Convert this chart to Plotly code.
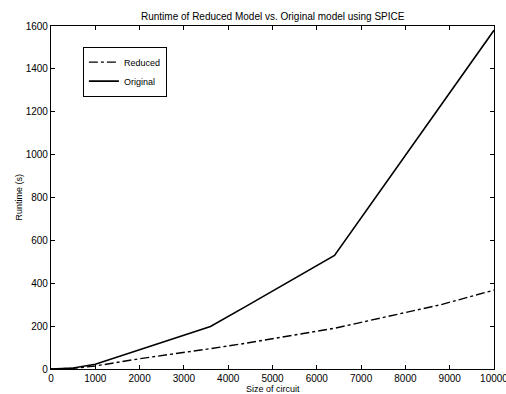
import plotly.graph_objects as go

orig_x = [0, 500, 1000, 3600, 4400, 6400, 10000]
orig_y = [0, 5, 22, 198, 292, 530, 1580]
red_x = [0, 500, 1000, 2000, 3600, 4400, 6400, 8800, 10000]
red_y = [0, 3, 14, 48, 95, 120, 190, 300, 368]

x_ticks = [0, 1000, 2000, 3000, 4000, 5000, 6000, 7000, 8000, 9000, 10000]
y_ticks = [0, 200, 400, 600, 800, 1000, 1200, 1400, 1600]

FONT = "Liberation Sans, Arial, sans-serif"

fig = go.Figure()
fig.add_trace(go.Scatter(x=red_x, y=red_y, mode="lines", name="Reduced",
                         line=dict(color="black", width=1.4, dash="dashdot")))
fig.add_trace(go.Scatter(x=orig_x, y=orig_y, mode="lines", name="Original",
                         line=dict(color="black", width=1.6)))

axis_common = dict(showgrid=False, zeroline=False, showline=True, linecolor="black",
                   linewidth=1.2, mirror="ticks", ticks="inside", ticklen=4,
                   tickcolor="black", tickwidth=1.2, ticklabeloverflow="allow",
                   tickfont=dict(family=FONT, size=10, color="black"))

fig.update_xaxes(range=[0, 10000], tickvals=x_ticks, ticktext=[str(v) for v in x_ticks],
                 automargin=False, **axis_common)
fig.update_yaxes(range=[0, 1600], tickvals=y_ticks, ticktext=[str(v) for v in y_ticks],
                 automargin=False, **axis_common)

fig.update_layout(
    width=506, height=394,
    margin=dict(l=51, r=12, t=26, b=25),
    paper_bgcolor="white", plot_bgcolor="white",
    showlegend=True,
    legend=dict(x=0.072, y=0.94, xanchor="left", yanchor="top",
                bgcolor="white", bordercolor="black", borderwidth=1,
                font=dict(family=FONT, size=9, color="black"),
                tracegroupgap=0, itemwidth=30),
    annotations=[
        dict(text="Runtime of Reduced Model vs. Original model using SPICE",
             xref="paper", yref="paper", x=0.5, y=1, yshift=10, showarrow=False,
             font=dict(family=FONT, size=10, color="black"), yanchor="middle"),
        dict(text="Size of circuit", xref="paper", yref="paper", x=0.5, y=0,
             yshift=-20, showarrow=False, yanchor="middle",
             font=dict(family=FONT, size=9, color="black")),
        dict(text="Runtime (s)", xref="paper", yref="paper", x=0, y=0.5,
             xshift=-33, showarrow=False, textangle=-90, xanchor="center",
             font=dict(family=FONT, size=9, color="black")),
    ],
)

fig.write_html("out.html", config={"displayModeBar": False},
               post_script="document.body.style.margin='0';document.body.style.overflow='hidden';")
